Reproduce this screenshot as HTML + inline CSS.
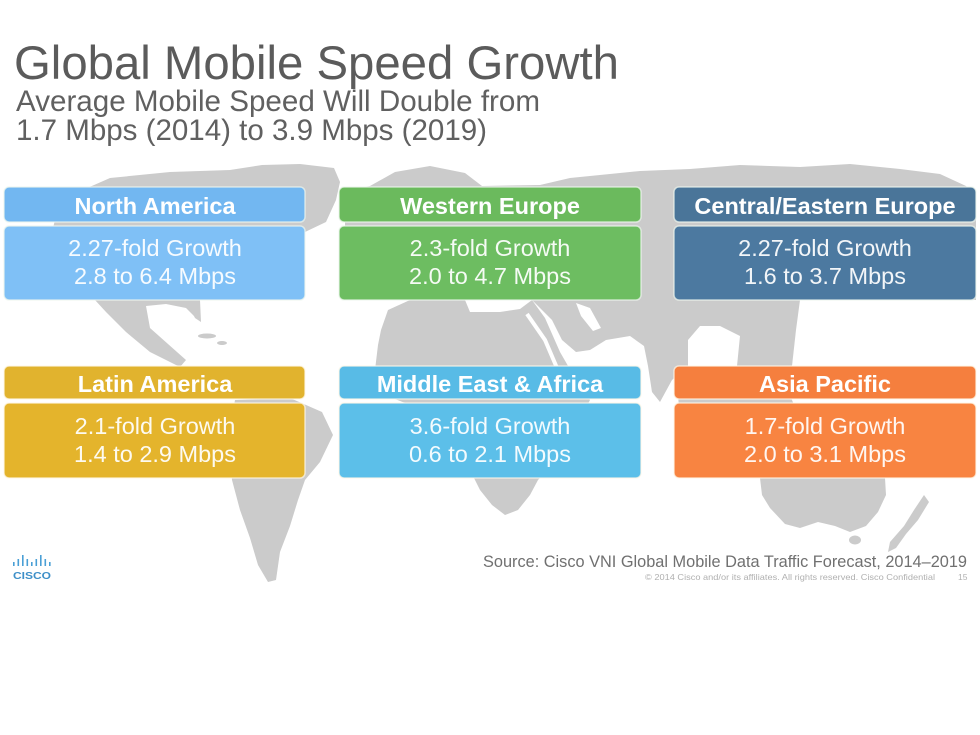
<!DOCTYPE html>
<html>
<head>
<meta charset="utf-8">
<style>
  html,body{margin:0;padding:0;background:#ffffff;}
  body{width:980px;height:735px;overflow:hidden;}
  svg{display:block;}
  text{font-family:"Liberation Sans", Arial, sans-serif;}
</style>
</head>
<body>
<svg width="980" height="735" viewBox="0 0 980 735" xmlns="http://www.w3.org/2000/svg">
  <rect x="0" y="0" width="980" height="735" fill="#ffffff"/>

  <!-- ===== World map (approximate) ===== -->
  <g fill="#cbcbcb">
    <!-- North America + Greenland -->
    <polygon points="60,200 110,178 170,172 230,170 262,165 300,164 334,168 340,182 336,200 326,222 305,232 300,260 290,282 250,295 222,300 200,300 196,318 186,308 166,304 146,306 150,328 168,344 186,360 180,367 150,352 126,332 106,312 95,300 70,280 50,240"/>
    <!-- Florida -->
    <polygon points="186,300 200,300 201,322 195,318"/>
    <!-- Caribbean -->
    <ellipse cx="207" cy="336" rx="9" ry="2.5"/>
    <ellipse cx="222" cy="343" rx="5" ry="2"/>
    <!-- South America -->
    <polygon points="235,400 290,398 322,412 333,435 320,462 305,480 298,500 290,526 280,552 276,580 268,582 258,565 250,538 240,510 232,480 228,440"/>
    <!-- Africa -->
    <polygon points="381,330 388,310 410,300 465,300 470,312 500,312 520,309 532,300 545,318 560,352 575,378 590,400 575,430 556,460 538,480 530,495 518,510 505,515 492,505 480,490 470,470 455,440 440,420 410,405 385,395 375,370 378,345"/>
    <!-- Eurasia -->
    <polygon points="345,192 370,186 395,172 430,166 465,173 482,186 540,185 570,178 600,175 640,171 690,169 740,165 800,167 850,164 900,169 940,174 966,186 976,200 976,300 800,300 796,330 792,366 737,366 740,336 720,326 700,326 688,340 688,366 672,380 660,402 652,392 648,366 644,346 630,336 606,340 590,350 576,352 562,340 552,320 532,300 470,300 400,300 345,260"/>
    <!-- Indonesia region under boxes -->
    <polygon points="676,370 780,370 800,420 760,470 700,470 680,420"/>
    <!-- Australia -->
    <polygon points="760,478 885,478 886,495 878,512 866,526 850,532 835,526 818,522 800,528 785,524 770,508 762,495"/>
    <ellipse cx="855" cy="540" rx="6" ry="4.5"/>
    <!-- New Zealand -->
    <polygon points="924,495 929,502 918,520 906,534 896,548 888,552 890,542 904,526 914,510"/>
  </g>
  <!-- seas cut out -->
  <g fill="#ffffff">
    <polygon points="576,303 590,308 601,328 593,331 581,316"/>
  </g>
  <polyline points="527,314 545,340 557,368" fill="none" stroke="#ffffff" stroke-width="4"/>

  <!-- ===== Title ===== -->
  <text x="14" y="79" font-size="47" fill="#5b5b5b" textLength="605" lengthAdjust="spacingAndGlyphs">Global Mobile Speed Growth</text>
  <text x="16" y="111" font-size="29.5" fill="#606060" textLength="524" lengthAdjust="spacingAndGlyphs">Average Mobile Speed Will Double from</text>
  <text x="16" y="140" font-size="29.5" fill="#606060" textLength="471" lengthAdjust="spacingAndGlyphs">1.7 Mbps (2014) to 3.9 Mbps (2019)</text>

  <!-- ===== Boxes row 1 ===== -->
  <g stroke="#eef6ee" stroke-opacity="0.7" stroke-width="1.5">
    <rect x="4" y="187" width="301" height="35" rx="5" fill="#72b7f1"/>
    <rect x="4" y="226" width="301" height="74" rx="5" fill="#7fc0f6"/>
    <rect x="339" y="187" width="302" height="35" rx="5" fill="#6bba5d"/>
    <rect x="339" y="226" width="302" height="74" rx="5" fill="#6dbd61"/>
    <rect x="674" y="187" width="302" height="35" rx="5" fill="#4a7599"/>
    <rect x="674" y="226" width="302" height="74" rx="5" fill="#4c79a0"/>
  </g>
  <!-- ===== Boxes row 2 ===== -->
  <g stroke="#fff8e8" stroke-opacity="0.7" stroke-width="1.5">
    <rect x="4" y="366" width="301" height="33" rx="5" fill="#e1b32e"/>
    <rect x="4" y="403" width="301" height="75" rx="5" fill="#e4b42c"/>
    <rect x="339" y="366" width="302" height="33" rx="5" fill="#58bbe6"/>
    <rect x="339" y="403" width="302" height="75" rx="5" fill="#5cbfe9"/>
    <rect x="674" y="366" width="302" height="33" rx="5" fill="#f57f3e"/>
    <rect x="674" y="403" width="302" height="75" rx="5" fill="#f88441"/>
  </g>

  <!-- headers -->
  <g font-size="23.5" font-weight="bold" fill="#ffffff" text-anchor="middle">
    <text x="155" y="214">North America</text>
    <text x="490" y="214">Western Europe</text>
    <text x="825" y="214">Central/Eastern Europe</text>
    <text x="155" y="392">Latin America</text>
    <text x="490" y="392">Middle East &amp; Africa</text>
    <text x="825" y="392">Asia Pacific</text>
  </g>
  <!-- bodies -->
  <g font-size="23.5" fill="#ffffff" fill-opacity="0.93" text-anchor="middle">
    <text x="155" y="256">2.27-fold Growth</text>
    <text x="155" y="284">2.8 to 6.4 Mbps</text>
    <text x="490" y="256">2.3-fold Growth</text>
    <text x="490" y="284">2.0 to 4.7 Mbps</text>
    <text x="825" y="256">2.27-fold Growth</text>
    <text x="825" y="284">1.6 to 3.7 Mbps</text>
    <text x="155" y="434">2.1-fold Growth</text>
    <text x="155" y="462">1.4 to 2.9 Mbps</text>
    <text x="490" y="434">3.6-fold Growth</text>
    <text x="490" y="462">0.6 to 2.1 Mbps</text>
    <text x="825" y="434">1.7-fold Growth</text>
    <text x="825" y="462">2.0 to 3.1 Mbps</text>
  </g>

  <!-- ===== Footer ===== -->
  <text x="483" y="567" font-size="17" fill="#707070" textLength="484" lengthAdjust="spacingAndGlyphs">Source: Cisco VNI Global Mobile Data Traffic Forecast, 2014–2019</text>
  <text x="645" y="580" font-size="8.5" fill="#b0b0b0" textLength="290" lengthAdjust="spacingAndGlyphs">© 2014  Cisco and/or its affiliates. All rights reserved.   Cisco Confidential</text>
  <text x="958" y="580" font-size="8.5" fill="#b0b0b0">15</text>

  <!-- Cisco logo -->
  <g fill="#4a9fd6">
    <rect x="13" y="562" width="1.6" height="4"/>
    <rect x="17.5" y="559" width="1.6" height="7"/>
    <rect x="22" y="555" width="1.6" height="11"/>
    <rect x="26.5" y="559" width="1.6" height="7"/>
    <rect x="31" y="562" width="1.6" height="4"/>
    <rect x="35.5" y="559" width="1.6" height="7"/>
    <rect x="40" y="555" width="1.6" height="11"/>
    <rect x="44.5" y="559" width="1.6" height="7"/>
    <rect x="49" y="562" width="1.6" height="4"/>
  </g>
  <text x="13" y="579" font-size="10.5" font-weight="bold" fill="#3d8fc8" textLength="38" lengthAdjust="spacingAndGlyphs">CISCO</text>
</svg>
</body>
</html>
